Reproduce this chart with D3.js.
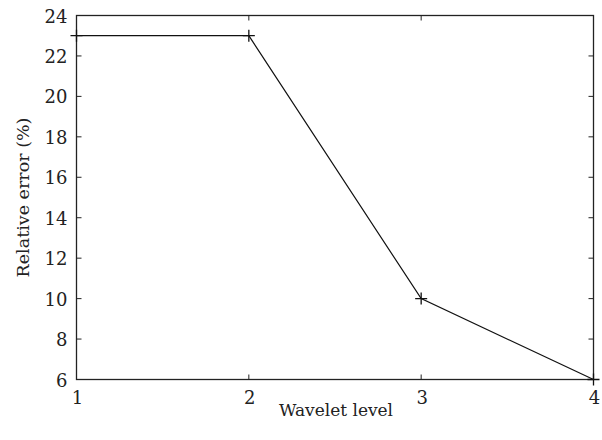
<!DOCTYPE html>
<html>
<head>
<meta charset="utf-8">
<script src="https://cdn.jsdelivr.net/npm/d3@7"></script>
<style>
  body { margin: 0; background: #fff; }
  text { font-family: "DejaVu Serif", "Liberation Serif", serif; fill: #222; }
</style>
</head>
<body>
<div id="chart"></div>
<script>
var levels = [1, 2, 3, 4];
var relError = [23, 23, 10, 6];
var xTicks = [1, 2, 3, 4];
var yTicks = [6, 8, 10, 12, 14, 16, 18, 20, 22, 24];

var width = 602, height = 440;
var margin = {top: 15.5, right: 8.5, bottom: 60.5, left: 76.5};
var iw = width - margin.left - margin.right,
    ih = height - margin.top - margin.bottom;

var svg = d3.select("#chart").append("svg")
  .attr("width", width)
  .attr("height", height);

var g = svg.append("g")
  .attr("transform", "translate(" + margin.left + "," + margin.top + ")");

var x = d3.scaleLinear().domain([1, 4]).range([0, iw]);
var y = d3.scaleLinear().domain([6, 24]).range([ih, 0]);

// frame
g.append("rect")
  .attr("width", iw).attr("height", ih)
  .attr("fill", "none").attr("stroke", "#222").attr("stroke-width", 1.3);

var tl = 5;
// inward ticks, mirrored on all sides
yTicks.forEach(function(t) {
  g.append("line").attr("x1", 0).attr("x2", tl).attr("y1", y(t)).attr("y2", y(t))
    .attr("stroke", "#222");
  g.append("line").attr("x1", iw).attr("x2", iw - tl).attr("y1", y(t)).attr("y2", y(t))
    .attr("stroke", "#222");
  g.append("text")
    .attr("x", -9).attr("y", y(t) + 7)
    .attr("text-anchor", "end")
    .attr("font-size", 18)
    .text(t);
});
xTicks.forEach(function(t) {
  g.append("line").attr("x1", x(t)).attr("x2", x(t)).attr("y1", ih).attr("y2", ih - tl)
    .attr("stroke", "#222");
  g.append("line").attr("x1", x(t)).attr("x2", x(t)).attr("y1", 0).attr("y2", tl)
    .attr("stroke", "#222");
  g.append("text")
    .attr("x", x(t) + 1).attr("y", ih + 24)
    .attr("text-anchor", "middle")
    .attr("font-size", 18)
    .text(t);
});

var pts = levels.map(function(d, i) { return [d, relError[i]]; });

g.append("path")
  .datum(pts)
  .attr("fill", "none")
  .attr("stroke", "#111")
  .attr("stroke-width", 1.2)
  .attr("d", d3.line().x(function(d) { return x(d[0]); }).y(function(d) { return y(d[1]); }));

var m = 6;
g.selectAll(".plus")
  .data(pts)
  .enter()
  .append("path")
  .attr("class", "plus")
  .attr("stroke", "#111")
  .attr("stroke-width", 1.3)
  .attr("d", function(d) {
    var cx = x(d[0]), cy = y(d[1]);
    return "M" + (cx - m) + "," + cy + "H" + (cx + m) + "M" + cx + "," + (cy - m) + "V" + (cy + m);
  });

svg.append("text")
  .attr("x", margin.left + iw / 2 + 1)
  .attr("y", 416)
  .attr("text-anchor", "middle")
  .attr("font-size", 17)
  .text("Wavelet level");

svg.append("text")
  .attr("transform", "translate(29," + (margin.top + ih / 2) + ") rotate(-90)")
  .attr("text-anchor", "middle")
  .attr("font-size", 17.5)
  .text("Relative error (%)");
</script>
</body>
</html>
